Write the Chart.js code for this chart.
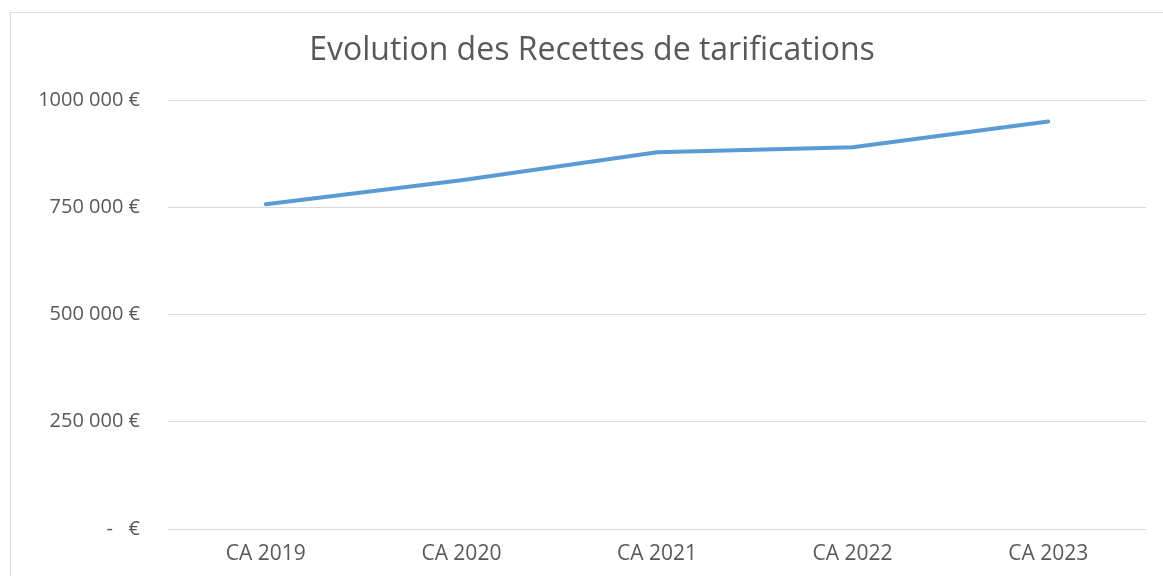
<!DOCTYPE html>
<html>
<head>
<meta charset="utf-8">
<script src="https://cdn.jsdelivr.net/npm/chart.js@4"></script>
<style>
  html, body { margin: 0; padding: 0; background: #fff; }
  #wrap { width: 1163px; height: 576px; position: relative; }
</style>
</head>
<body>
<div id="wrap"><canvas id="recettesChart"></canvas></div>
<script>
// Chart data
const categories = ['CA 2019', 'CA 2020', 'CA 2021', 'CA 2022', 'CA 2023'];
const recettes = [757000, 813000, 878000, 890000, 950000];
const yTickValues = [0, 250000, 500000, 750000, 1000000];
const yTickLabels = ['-   €', '250 000 €', '500 000 €', '750 000 €', '1000 000 €'];

const textGrey = '#595959';
const gridGrey = '#d9d9d9';

// Outer frame like the Excel chart border
const framePlugin = {
  id: 'frame',
  beforeDraw(chart) {
    const ctx = chart.ctx;
    ctx.save();
    ctx.fillStyle = '#fff';
    ctx.fillRect(0, 0, chart.width, chart.height);
    ctx.strokeStyle = gridGrey;
    ctx.lineWidth = 1;
    ctx.strokeRect(10.5, 12.5, chart.width + 20, chart.height + 20);
    ctx.restore();
  }
};

window.addEventListener('DOMContentLoaded', () => {
  const ctx = document.getElementById('recettesChart').getContext('2d');

  new Chart(ctx, {
    type: 'line',
    data: {
      labels: categories,
      datasets: [{
        label: 'Recettes',
        data: recettes,
        borderColor: '#5b9bd5',
        borderWidth: 4,
        borderCapStyle: 'round',
        borderJoinStyle: 'round',
        pointRadius: 0,
        tension: 0,
        fill: false
      }]
    },
    options: {
      responsive: true,
      maintainAspectRatio: false,
      animation: false,
      layout: {
        // left padding shifts the title centre to match the original
        padding: { left: 38, right: 17, top: 0, bottom: 0 }
      },
      plugins: {
        legend: { display: false },
        tooltip: { enabled: false },
        title: {
          display: true,
          text: 'Evolution des Recettes de tarifications',
          color: textGrey,
          font: { family: 'Open Sans', size: 32, weight: 'normal' },
          padding: { top: 32, bottom: 29.6 }
        }
      },
      scales: {
        x: {
          offset: true,
          grid: { display: false, drawTicks: false },
          border: { display: false },
          ticks: {
            color: textGrey,
            font: { family: 'Open Sans', size: 21 },
            padding: 12,
            maxRotation: 0
          },
          afterFit(scale) { scale.height = 47; }
        },
        y: {
          min: 0,
          max: 1000000,
          afterBuildTicks(scale) {
            scale.ticks = yTickValues.map(v => ({ value: v }));
          },
          grid: { color: gridGrey, lineWidth: 1, drawTicks: false },
          border: { display: false },
          ticks: {
            color: textGrey,
            font: { family: 'Open Sans', size: 20 },
            padding: 28,
            callback: function(value) {
              const i = yTickValues.indexOf(value);
              return i >= 0 ? yTickLabels[i] : '';
            }
          },
          afterFit(scale) { scale.width = 130; }
        }
      }
    },
    plugins: [framePlugin]
  });
});
</script>
</body>
</html>
